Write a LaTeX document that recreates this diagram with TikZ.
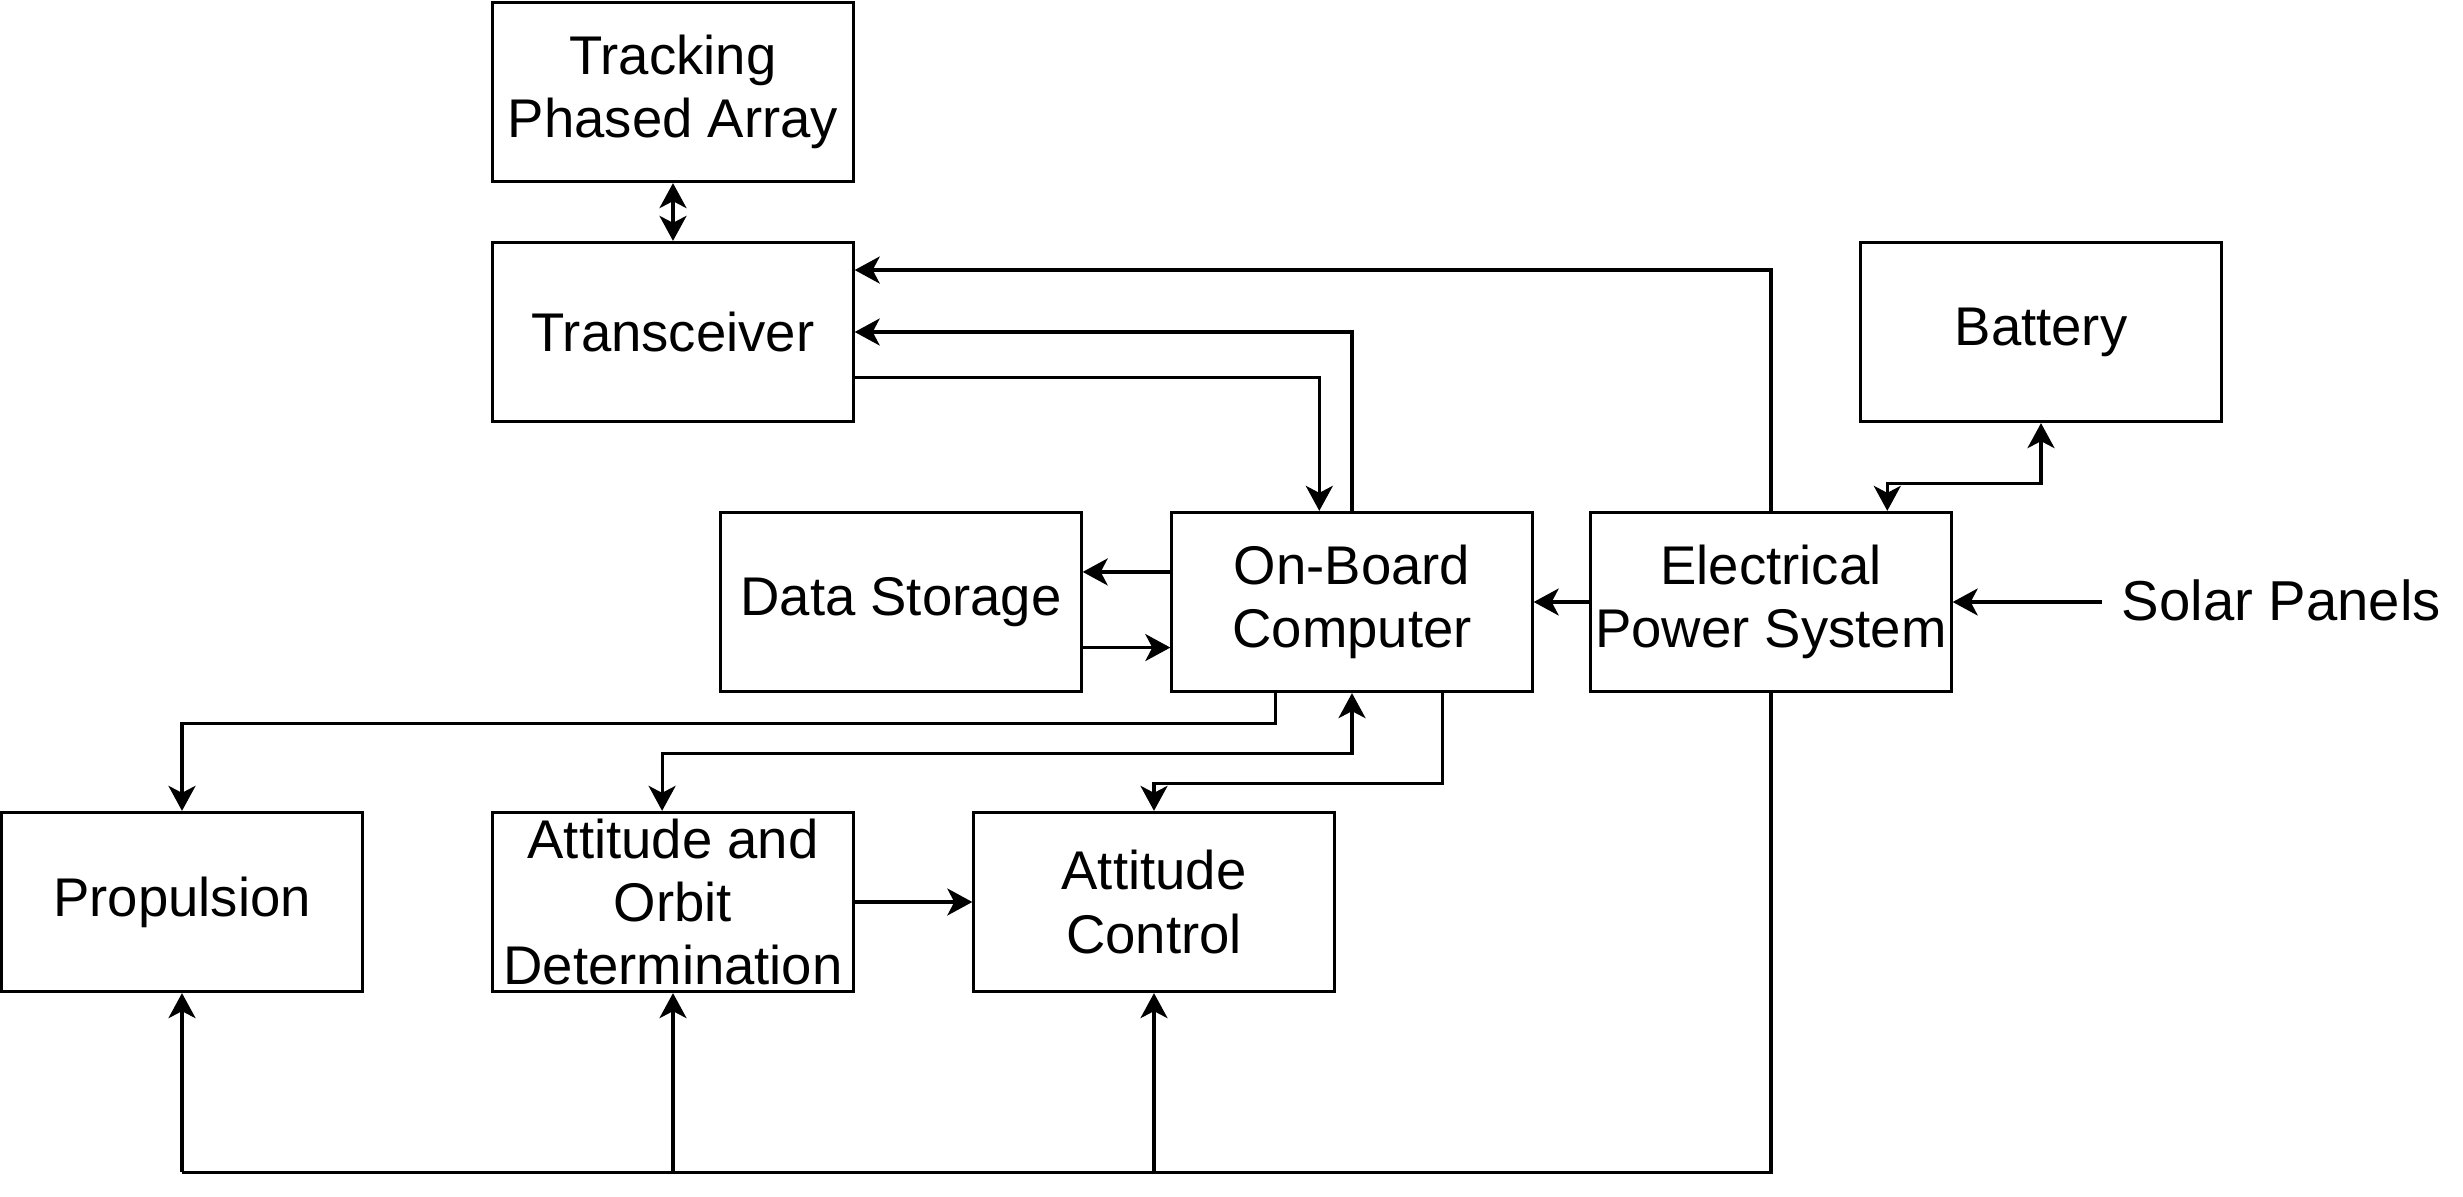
\documentclass[tikz,border=0pt]{standalone}
\usepackage{fontspec}
\setmainfont{Liberation Sans}
\usepackage{tikz}
\usetikzlibrary{arrows.meta, positioning, calc}
\tikzset{
  block/.style={rectangle, draw=black, fill=white, line width=0.9pt, align=center, minimum width=3.6cm, minimum height=1.79cm, inner sep=1pt, font=\fontsize{15.5}{18}\selectfont},
  label/.style={font=\fontsize{16}{19}\selectfont, inner sep=0pt},
  arrow/.style={-{Stealth[length=2.5mm, width=2.7mm, inset=0.7mm]}, line width=0.9pt},
  biarrow/.style={{Stealth[length=2.5mm, width=2.7mm, inset=0.7mm]}-{Stealth[length=2.5mm, width=2.7mm, inset=0.7mm]}, line width=0.9pt},
  wire/.style={line width=0.9pt},
}

\begin{document}
\begin{tikzpicture}[x=0.01cm, y=-0.01cm]
  \useasboundingbox (0,0) rectangle (2463,1197);
  % blocks
  \node[block] (track) at (673,92) {Tracking\\Phased Array};
  \node[block] (trans) at (673,332) {Transceiver};
  \node[block] (batt) at (2041,332) {Battery};
  \node[block] (store) at (901,602) {Data Storage};
  \node[block] (obc) at (1352,602) {On-Board\\Computer};
  \node[block] (eps) at (1771,602) {Electrical\\Power System};
  \node[block] (prop) at (182,902) {Propulsion};
  \node[block] (aod) at (673,902) {Attitude and\\Orbit\\Determination};
  \node[block] (ac) at (1154,902) {Attitude\\Control};
  \node[label, anchor=west] (solar) at (2121,600) {Solar Panels};

  % helper points on the edges
  \coordinate (transA) at ($(trans.north east)!0.16!(trans.south east)$);
  \coordinate (transB) at ($(trans.north east)!0.75!(trans.south east)$);
  \coordinate (obcN) at ($(obc.north west)!0.41!(obc.north east)$);
  \coordinate (obcW1) at ($(obc.north west)!0.335!(obc.south west)$);
  \coordinate (storeE) at ($(store.north east)!0.75!(store.south east)$);
  \coordinate (obcS1) at ($(obc.south west)!0.29!(obc.south east)$);
  \coordinate (obcS2) at ($(obc.south west)!0.75!(obc.south east)$);
  \coordinate (aodN) at ($(aod.north west)!0.47!(aod.north east)$);
  \coordinate (epsN) at ($(eps.north west)!0.82!(eps.north east)$);
  \coordinate (solarW) at ($(solar.west)+(-19,0)$);
  \coordinate (bus) at ($(eps.south)+(0,479)$);

  % radio links
  \draw[biarrow] (track) -- (trans);
  \draw[arrow] (eps.north) |- (transA);
  \draw[arrow] (obc.north) |- (trans.east);
  \draw[arrow] (transB) -| (obcN);

  % storage
  \draw[arrow] (obcW1) -- (obcW1 -| store.east);
  \draw[arrow] (storeE) -- (storeE -| obc.west);

  % power
  \draw[arrow] (eps) -- (obc);
  \draw[arrow] (solarW |- eps.east) -- (eps.east);
  \draw[biarrow] (batt.south) -- ++(0,60) -| (epsN);

  % commands to the lower blocks
  \draw[arrow] (obcS1) -- ++(0,30) -| (prop.north);
  \draw[biarrow] (aodN) |- ($(obc.south)+(0,60)$) -- (obc.south);
  \draw[arrow] (obcS2) -- ++(0,90) -| (ac.north);
  \draw[arrow] (aod) -- (ac);

  % power bus
  \draw[wire] (eps.south) -- (bus) -- (bus -| prop.south);
  \draw[arrow] (bus -| prop.south) -- (prop.south);
  \draw[arrow] (bus -| aod.south) -- (aod.south);
  \draw[arrow] (bus -| ac.south) -- (ac.south);
\end{tikzpicture}
\end{document}
